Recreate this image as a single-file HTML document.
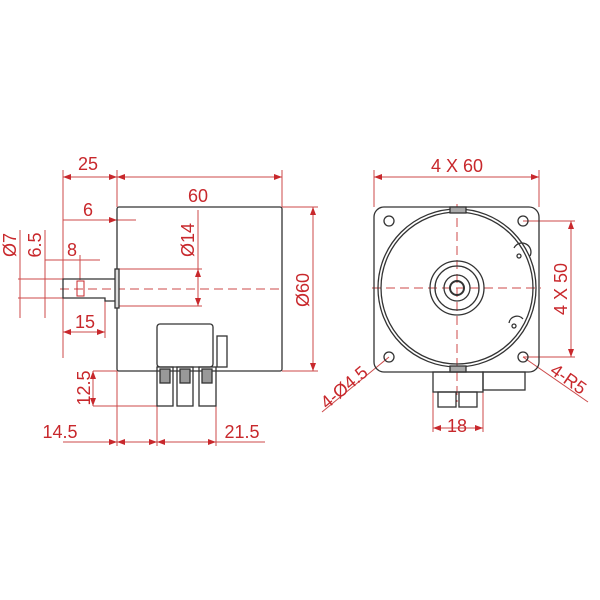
<!DOCTYPE html>
<html><head><meta charset="utf-8"><style>
html,body{margin:0;padding:0;background:#fff}
svg{display:block}
text{font-family:"Liberation Sans",sans-serif;fill:#c8282c;font-size:18px}
</style></head><body>
<svg width="600" height="600" viewBox="0 0 600 600">
<defs>
<marker id="a" markerWidth="8" markerHeight="6" refX="8" refY="3" orient="auto-start-reverse" markerUnits="userSpaceOnUse"><path d="M0,0 L8,3 L0,6z" fill="#c8282c"/></marker>
</defs>
<g stroke="#cc4a4a" stroke-width="1" fill="none">
<line x1="63" y1="170" x2="63" y2="358"/>
<line x1="117" y1="170" x2="117" y2="207"/>
<line x1="282" y1="170" x2="282" y2="207"/>
<line x1="282" y1="207" x2="318" y2="207"/>
<line x1="282" y1="371" x2="318" y2="371"/>
<line x1="117" y1="269" x2="202" y2="269"/>
<line x1="117" y1="306" x2="202" y2="306"/>
<line x1="18" y1="279" x2="63" y2="279"/>
<line x1="18" y1="298" x2="63" y2="298"/>
<line x1="20" y1="230" x2="20" y2="318"/>
<line x1="45" y1="230" x2="45" y2="318"/>
<line x1="80" y1="255" x2="80" y2="280"/>
<line x1="105" y1="298" x2="105" y2="338"/>
<line x1="93" y1="371" x2="117" y2="371"/>
<line x1="93" y1="406" x2="157" y2="406"/>
<line x1="117" y1="371" x2="117" y2="446"/>
<line x1="157" y1="406" x2="157" y2="446"/>
<line x1="216" y1="406" x2="216" y2="446"/>
<line x1="63" y1="177" x2="117" y2="177" marker-start="url(#a)" marker-end="url(#a)"/>
<line x1="117" y1="177" x2="282" y2="177" marker-start="url(#a)" marker-end="url(#a)"/>
<line x1="63" y1="220" x2="117" y2="220" marker-end="url(#a)"/><line x1="117" y1="220" x2="136" y2="220"/>
<line x1="198" y1="269" x2="198" y2="306" marker-start="url(#a)" marker-end="url(#a)"/>
<line x1="198" y1="210" x2="198" y2="269"/>
<line x1="313" y1="207" x2="313" y2="371" marker-start="url(#a)" marker-end="url(#a)"/>
<line x1="45" y1="260" x2="100" y2="260"/>
<line x1="63" y1="332" x2="105" y2="332" marker-start="url(#a)" marker-end="url(#a)"/>
<line x1="93" y1="371" x2="93" y2="406" marker-start="url(#a)" marker-end="url(#a)"/>
<line x1="63" y1="442" x2="117" y2="442" marker-end="url(#a)"/>
<line x1="117" y1="442" x2="157" y2="442" marker-start="url(#a)" marker-end="url(#a)"/>
<line x1="157" y1="442" x2="216" y2="442" marker-start="url(#a)" marker-end="url(#a)"/>
<line x1="216" y1="442" x2="265" y2="442"/>
<line x1="60" y1="289" x2="282" y2="289" stroke-dasharray="9,5"/>
<line x1="374" y1="170" x2="374" y2="207"/>
<line x1="539" y1="170" x2="539" y2="207"/>
<line x1="374" y1="177" x2="539" y2="177" marker-start="url(#a)" marker-end="url(#a)"/>
<line x1="523" y1="221" x2="575" y2="221"/>
<line x1="523" y1="357" x2="575" y2="357"/>
<line x1="571" y1="221" x2="571" y2="357" marker-start="url(#a)" marker-end="url(#a)"/>
<line x1="433" y1="392" x2="433" y2="432"/>
<line x1="483" y1="392" x2="483" y2="432"/>
<line x1="433" y1="428" x2="483" y2="428" marker-start="url(#a)" marker-end="url(#a)"/>
<line x1="457" y1="204" x2="457" y2="402" stroke-dasharray="9,5"/>
<line x1="372" y1="288" x2="541" y2="288" stroke-dasharray="9,5"/>
<line x1="389" y1="357" x2="322" y2="412"/>
<line x1="523" y1="357" x2="588" y2="402"/>
</g>
<g stroke="#333" stroke-width="1.3" fill="none">
<rect x="117" y="207" width="165" height="164" rx="2"/>
<rect x="115" y="269" width="4" height="39" fill="#ddd"/>
<path d="M115,279 H63 V298 H105 V301 H115"/>
<rect x="157" y="324" width="56" height="43" rx="3"/>
<rect x="217" y="336" width="10" height="31"/>
<rect x="157" y="367" width="16" height="39"/>
<rect x="177" y="367" width="16" height="39"/>
<rect x="199" y="367" width="17" height="39"/>
<rect x="160" y="369" width="10" height="14" fill="#999"/>
<rect x="180" y="369" width="10" height="14" fill="#999"/>
<rect x="202" y="369" width="10" height="14" fill="#999"/>
</g>
<rect x="77" y="281" width="7" height="15" fill="none" stroke="#c8282c" stroke-width="1"/>
<g stroke="#333" stroke-width="1.3" fill="none">
<rect x="374" y="207" width="165" height="165" rx="10"/>
<circle cx="457" cy="288" r="79"/>
<circle cx="457" cy="288" r="76"/>
<circle cx="457" cy="288" r="27"/>
<circle cx="457" cy="288" r="22"/>
<circle cx="457" cy="288" r="13"/>
<circle cx="457" cy="288" r="7" stroke-width="2"/>
<circle cx="389" cy="221" r="5"/><circle cx="523" cy="221" r="5"/>
<circle cx="389" cy="357" r="5"/><circle cx="523" cy="357" r="5"/>
<rect x="450" y="207" width="16" height="6" fill="#aaa"/>
<rect x="450" y="366" width="16" height="6" fill="#aaa"/>
<path d="M514,248 a8,8 0 0 1 16,8"/><circle cx="519" cy="256" r="2"/>
<path d="M509,323 a8,8 0 0 1 14,-4"/><circle cx="514" cy="326" r="2"/>
<rect x="433" y="372" width="50" height="20"/>
<rect x="438" y="392" width="18" height="15"/>
<rect x="459" y="392" width="18" height="15"/>
<rect x="483" y="372" width="42" height="18"/>
</g>
<text x="88" y="170" text-anchor="middle">25</text>
<text x="198" y="202" text-anchor="middle">60</text>
<text x="88" y="216" text-anchor="middle">6</text>
<text x="72" y="256" text-anchor="middle">8</text>
<text x="85" y="328" text-anchor="middle">15</text>
<text x="60" y="438" text-anchor="middle">14.5</text>
<text x="242" y="438" text-anchor="middle">21.5</text>
<text transform="translate(16,245) rotate(-90)" text-anchor="middle">Ø7</text>
<text transform="translate(41,245) rotate(-90)" text-anchor="middle">6.5</text>
<text transform="translate(194,240) rotate(-90)" text-anchor="middle">Ø14</text>
<text transform="translate(309,290) rotate(-90)" text-anchor="middle">Ø60</text>
<text transform="translate(90,388) rotate(-90)" text-anchor="middle">12.5</text>
<text x="457" y="172" text-anchor="middle">4 X 60</text>
<text transform="translate(567,289) rotate(-90)" text-anchor="middle">4 X 50</text>
<text x="457" y="432" text-anchor="middle">18</text>
<text transform="translate(348,392) rotate(-40)" text-anchor="middle">4-Ø4.5</text>
<text transform="translate(565,384) rotate(35)" text-anchor="middle">4-R5</text>
</svg>
</body></html>
